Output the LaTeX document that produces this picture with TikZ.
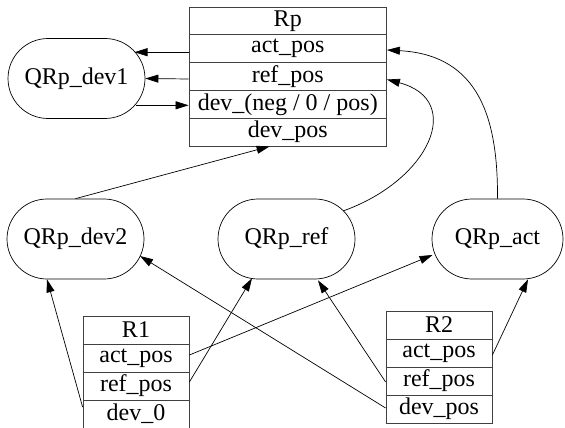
\documentclass[tikz,border=0pt]{standalone}
\usepackage{fontspec}
\setmainfont{Liberation Serif}
\usetikzlibrary{arrows.meta,shapes.misc,calc}
\begin{document}
\begin{tikzpicture}[x=1pt,y=-1pt,
  every node/.style={font=\fontsize{24}{28}\selectfont},
  cell/.style={draw=black!75,line width=0.8pt,rectangle,inner sep=0pt,minimum height=27.8pt},
  rpcell/.style={cell,minimum width=197.5pt},
  rcell/.style={cell,minimum width=106pt,minimum height=28pt},
  stad/.style={draw,line width=0.7pt,rounded rectangle,inner sep=0pt,minimum width=137pt,minimum height=80pt},
  arr/.style={line width=0.7pt,-{Triangle[length=13pt,width=8pt]}}]
\useasboundingbox (0,0) rectangle (565,428);
% Rp table
\node[rpcell] (rp0) at (287.75,20.9) {Rp};
\node[rpcell] (rp1) at (287.75,48.7) {act\_pos};
\node[rpcell] (rp2) at (287.75,76.5) {ref\_pos};
\node[rpcell] (rp3) at (287.75,104.3) {dev\_(neg / 0 / pos)};
\node[rpcell] (rp4) at (287.75,132.1) {dev\_pos};
% R1 table
\node[rcell] (r1h) at (136,330) {R1};
\node[rcell] (r1a) at (136,358) {act\_pos};
\node[rcell] (r1r) at (136,386) {ref\_pos};
\node[rcell] (r1d) at (136,414) {dev\_0};
% R2 table
\node[rcell] (r2h) at (439,325) {R2};
\node[rcell] (r2a) at (439,353) {act\_pos};
\node[rcell] (r2r) at (439,381) {ref\_pos};
\node[rcell] (r2d) at (439,409) {dev\_pos};
% rounded nodes
\node[stad] (dev1) at (76.5,78.5) {QRp\_dev1};
\node[stad] (dev2) at (75.5,239) {QRp\_dev2};
\node[stad] (ref) at (286.5,239) {QRp\_ref};
\node[stad,minimum width=131pt] (act) at (497.5,239) {QRp\_act};
% Rp <-> QRp_dev1
\draw[arr] ($(rp1.west)+(0,3.5)$) -- ($(dev1.center)+(58,-26.3)$);
\draw[arr] ($(rp2.west)+(0,2.5)$) -- (dev1.east);
\draw[arr] ($(dev1.center)+(59.5,26.8)$) -- ($(rp3.west)+(0,1)$);
% QRp_dev2 -> Rp dev_pos
\draw[arr] (dev2.north) -- ($(rp4.south west)+(81,0)$);
% curved edges into Rp
\draw[arr] ($(ref.center)+(56.5,-28)$) .. controls (430,180) and (465,100) .. ($(rp2.east)+(0,3)$);
\draw[arr] (act.north) .. controls (498,120) and (480,55) .. ($(rp1.east)+(0,1.3)$);
% R1 edges
\draw[arr] ($(r1d.west)+(0,-7)$) -- ($(dev2.south)+(-28.5,0)$);
\draw[arr] ($(r1r.east)+(0,-4)$) -- ($(ref.south)+(-34.5,-1)$);
\draw[arr] ($(r1a.east)+(0,-3)$) -- ($(act.center)+(-65,16)$);
% R2 edges
\draw[arr] ($(r2a.east)+(0,2)$) -- ($(act.south)+(30.5,0)$);
\draw[arr] ($(r2r.west)+(0,1)$) -- ($(ref.south)+(31.5,1)$);
\draw[arr] ($(r2d.west)+(0,-1)$) -- ($(dev2.center)+(64.5,17)$);
\end{tikzpicture}
\end{document}
